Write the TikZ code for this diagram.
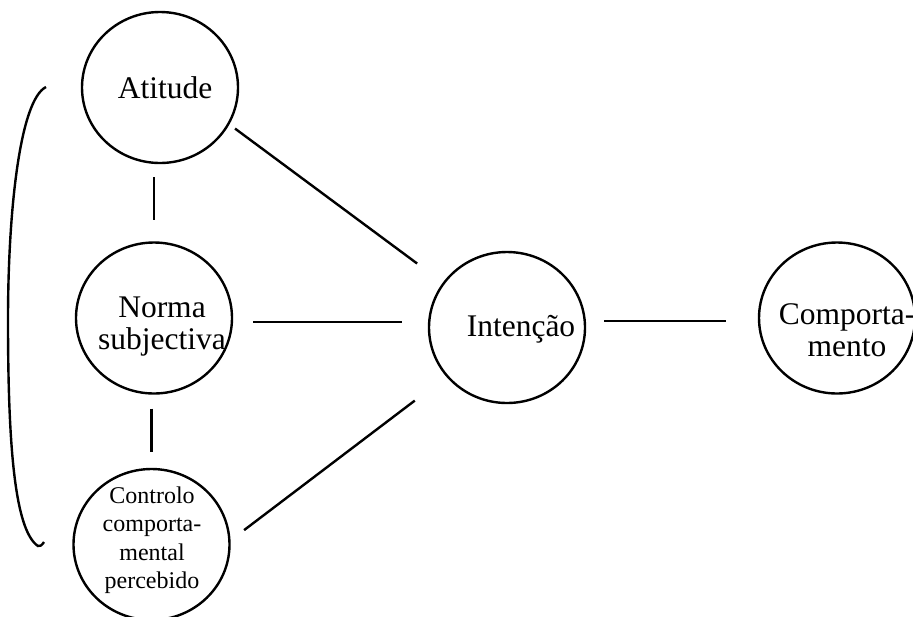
\documentclass[tikz,border=0pt]{standalone}
\usepackage{fontspec}
\setmainfont{Liberation Serif}
\usetikzlibrary{shapes.geometric}

\begin{document}
\begin{tikzpicture}[
    x=0.5pt, y=-0.5pt,
    construct/.style={ellipse,draw,line width=1.2pt,minimum width=78pt,
        minimum height=75.5pt,inner sep=0pt},
    cname/.style={align=center,inner sep=0pt,
        font=\fontsize{15.75}{16}\selectfont},
    cnamesmall/.style={cname,font=\fontsize{12}{14.25}\selectfont},
    link/.style={line width=1.2pt}
]
\useasboundingbox (0,0) rectangle (913,616);

% constructs
\node[construct] (att) at (160,87.5) {};
\node[construct] (nrm) at (154,318) {};
\node[construct] (int) at (507,327.5) {};
\node[construct] (ctrl) at (151.5,544.5) {};
\node[construct] (cmp) at (837,318) {};

% texts
\node[cname] (att-t) at (165,88) {Atitude};
\node[cname] (nrm-t) at (162,327) {Norma\\subjectiva};
\node[cname] (int-t) at (521,329) {Intenção};
\node[cname] (cmp-t) at (847,330) {Comporta-\\mento};
\node[cnamesmall] (ctrl-t) at (152,540) {Controlo\\comporta-\\mental\\percebido};

% links
\draw[link,shorten <=3.5pt,shorten >=16pt] (att.-28) -- (int.145);
\draw[link,shorten <=10pt,shorten >=13pt] (nrm.-3) -- (nrm.-3 -| int.west);
\draw[link,shorten <=8.5pt,shorten >=19.75pt] (ctrl.3) -- (int.219);
\draw[link,shorten <=9pt,shorten >=16pt] (int.east |- cmp.182) -- (cmp.182);
\draw[link,shorten <=6.5pt,shorten >=10.5pt] (nrm.north |- att.south) -- (nrm.north);
\draw[link,shorten <=7pt,shorten >=8pt] (ctrl.north |- nrm.south) -- (ctrl.north);

% bracket
\draw[link] (46,87) .. controls (20,100) and (8,210) .. (8,320)
    .. controls (8,440) and (14,530) .. (38,546)
    .. controls (40,547) and (42,545) .. (44,542);

\end{tikzpicture}
\end{document}
